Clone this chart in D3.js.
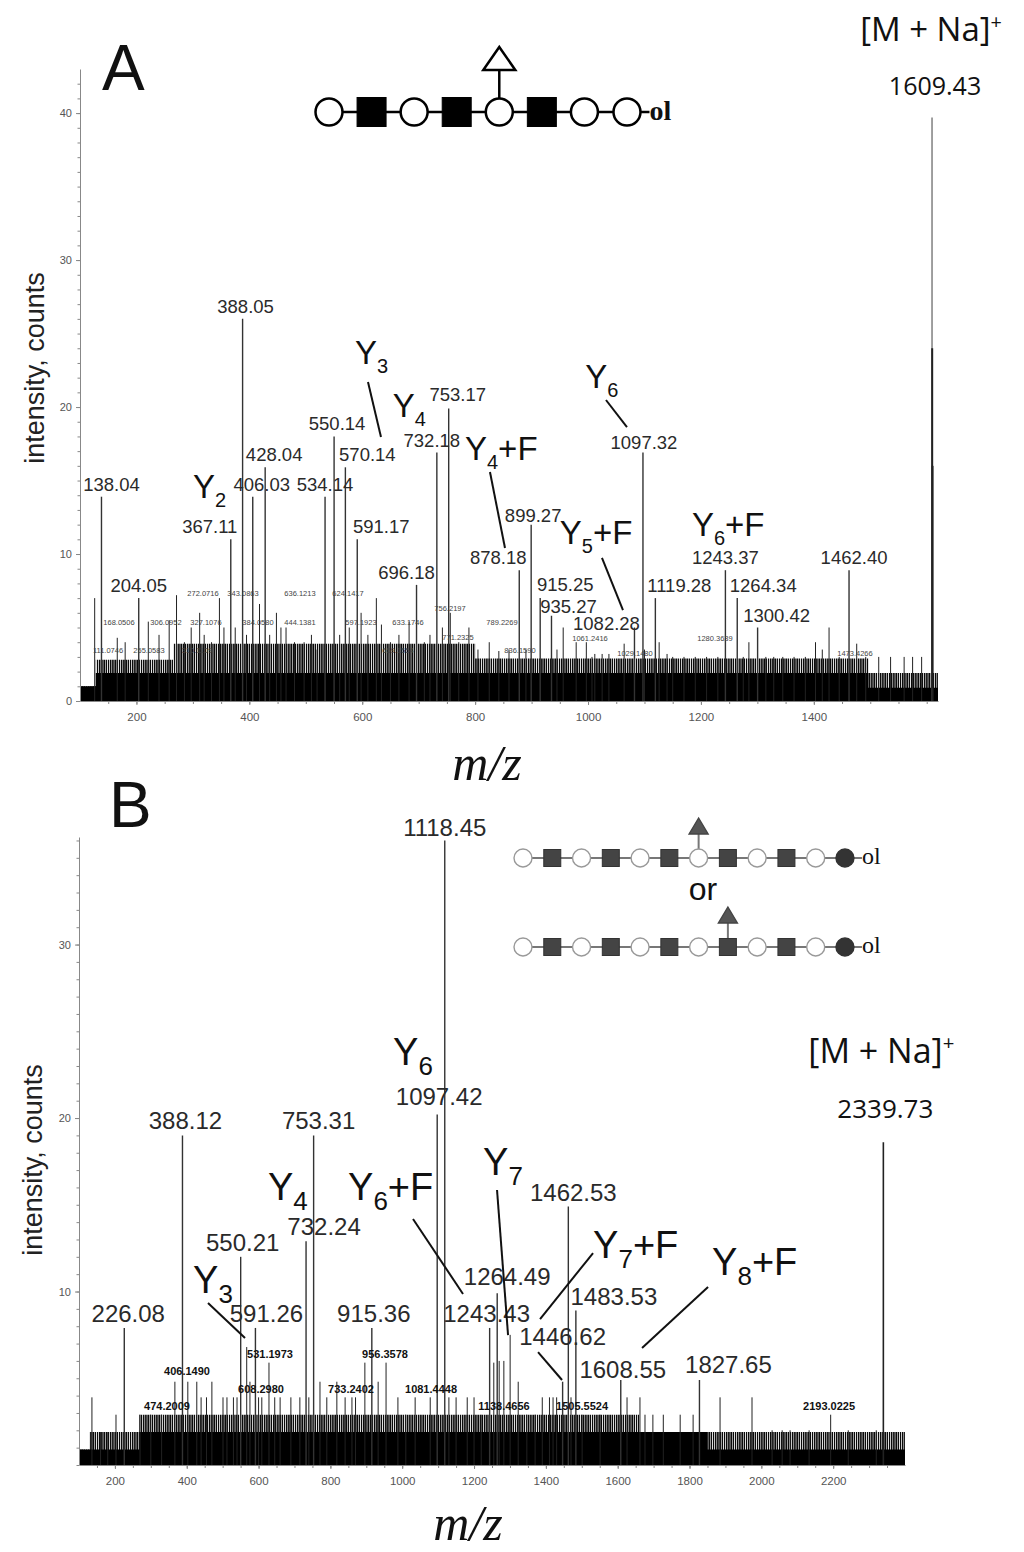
<!DOCTYPE html>
<html>
<head>
<meta charset="utf-8">
<script src="https://cdn.jsdelivr.net/npm/d3@7/dist/d3.min.js"></script>
<style>
body { margin: 0; background: #fff; }
svg { display: block; font-family: Arial, "Liberation Sans", sans-serif; }
</style>
</head>
<body>
<div id="chart-area"></div>
<script>
// ---------- Panel A data ----------
const xTicksA = [200, 400, 600, 800, 1000, 1200, 1400]
const yTicksA = [0, 10, 20, 30, 40]
const peaksA = [
    ["138.04", 138.04, 13.9], ["204.05", 204.05, 7.0], ["367.11", 367.11, 11.0],
    ["388.05", 388.05, 26.0], ["406.03", 406.03, 13.9], ["428.04", 428.04, 15.9],
    ["534.14", 534.14, 13.9], ["550.14", 550.14, 18.0], ["570.14", 570.14, 15.9],
    ["591.17", 591.17, 11.0], ["696.18", 696.18, 7.9], ["732.18", 732.18, 16.9],
    ["753.17", 753.17, 19.9], ["878.18", 878.18, 8.9], ["899.27", 899.27, 12.0],
    ["915.25", 915.25, 7.0], ["935.27", 935.27, 5.8], ["1082.28", 1082.28, 5.0],
    ["1097.32", 1097.32, 16.9], ["1119.28", 1119.28, 7.0], ["1243.37", 1243.37, 8.9],
    ["1264.34", 1264.34, 7.0], ["1300.42", 1300.42, 5.0], ["1462.40", 1462.40, 8.9]
]
const molIonA = [[1609.43, 39.7], [1609.7, 24.0], [1610.3, 16.0]]
const minorA = [
    [126, 7.0], [166, 4.3], [180, 4.0], [221, 5.4], [240, 4.5], [258, 5.5], [271, 7.2],
    [285, 4.0], [297, 5.0], [312, 6.0], [320, 4.5], [333, 4.0], [347, 7.0], [355, 5.0],
    [375, 5.0], [395, 4.5], [418, 6.6], [436, 4.5], [448, 6.0], [456, 5.0], [465, 5.0],
    [480, 4.0], [497, 4.0], [510, 4.5], [520, 3.5], [560, 4.5], [577, 5.0], [598, 6.0],
    [610, 4.5], [625, 7.0], [634, 5.2], [650, 4.0], [665, 4.5], [683, 5.4], [710, 4.0],
    [720, 4.5], [742, 5.0], [756, 6.0], [771, 4.0], [789, 5.0], [805, 3.5], [825, 4.0],
    [842, 3.4], [860, 3.5], [890, 3.5], [945, 3.5], [956, 5.0], [979, 4.0], [997, 4.0],
    [1007, 3.0], [1012, 3.2], [1025, 3.2], [1037, 3.2], [1064, 3.9], [1100, 3.5],
    [1126, 4.0], [1140, 3.2], [1150, 3.0], [1170, 3.0], [1190, 3.0], [1210, 3.0],
    [1230, 3.0], [1275, 3.0], [1285, 4.0], [1315, 3.0], [1329, 3.0], [1345, 3.0],
    [1365, 3.0], [1385, 3.0], [1403, 4.0], [1415, 3.5], [1427, 5.0], [1445, 3.0],
    [1476, 3.9], [1492, 3.0], [1515, 3.0], [1536, 3.0], [1560, 3.0], [1575, 3.0], [1591, 3.0]
]
const noiseSolidA = [[100, 1.0], [128, 1.9], [1497, 0.9], [1620, 0.9]]
const noiseGrassA = [[100, 1.0], [128, 2.8], [265, 3.9], [800, 2.9], [1497, 1.9], [1620, 1.9]]
const smallLabelsA = [
    ["272.0716", 317.9, 7.14], ["343.0863", 388.8, 7.14], ["636.1213", 489.7, 7.14],
    ["624.1417", 574.8, 7.14], ["168.0506", 169.1, 5.17], ["306.0952", 252.3, 5.17],
    ["327.1076", 323.2, 5.17], ["384.0580", 415.3, 5.17], ["444.1381", 489.7, 5.17],
    ["597.1923", 597.8, 5.17], ["633.1746", 681.0, 5.17], ["756.2197", 755.5, 6.12],
    ["771.2325", 769.6, 4.15], ["789.2269", 847.6, 5.17], ["111.0746", 149.6, 3.27],
    ["255.0583", 222.2, 3.27], ["310.1109", 307.3, 3.27], ["659.1554", 663.3, 3.27],
    ["836.1590", 879.4, 3.27], ["1061.2416", 1003.5, 4.08], ["1029.1480", 1083.2, 3.06],
    ["1280.3639", 1224.9, 4.08], ["1473.4266", 1472.9, 3.06]
]

// ---------- Panel B data ----------
const xTicksB = [200, 400, 600, 800, 1000, 1200, 1400, 1600, 1800, 2000, 2200]
const yTicksB = [10, 20, 30]
const peaksB = [
    ["226.08", 226.08, 7.9], ["388.12", 388.12, 19.0], ["550.21", 550.21, 12.0],
    ["591.26", 591.26, 7.9], ["732.24", 732.24, 12.9], ["753.31", 753.31, 19.0],
    ["915.36", 915.36, 7.9], ["1097.42", 1097.42, 20.2], ["1118.45", 1118.45, 36.0],
    ["1243.43", 1243.43, 7.9], ["1264.49", 1264.49, 9.9], ["1446.62", 1446.62, 4.8],
    ["1462.53", 1462.53, 14.9], ["1483.53", 1483.53, 8.9], ["1608.55", 1608.55, 4.9],
    ["1827.65", 1827.65, 4.9]
]
const molIonB = [[2339.73, 18.6]]
const minorB = [
    [136, 3.9], [160, 1.9], [180, 1.9], [203, 2.9], [270, 2.9], [300, 2.9], [330, 2.9],
    [367, 4.8], [403, 4.8], [428, 4.8], [440, 3.9], [455, 3.9], [470, 4.8], [501, 3.9],
    [512, 3.9], [530, 3.9], [540, 3.9], [567, 6.8], [576, 4.8], [600, 3.9], [609, 3.9],
    [629, 5.9], [645, 3.9], [660, 3.9], [690, 3.9], [715, 3.9], [740, 3.9], [771, 4.8],
    [790, 3.9], [818, 4.8], [841, 3.9], [860, 3.9], [870, 3.9], [896, 5.9], [933, 4.8],
    [955, 5.9], [988, 3.9], [1010, 2.9], [1036, 3.9], [1078, 3.9], [1130, 3.9], [1150, 3.9],
    [1181, 3.9], [1200, 3.9], [1220, 2.9], [1255, 5.9], [1270, 6.0], [1283, 6.0],
    [1300.5, 7.5], [1323, 4.8], [1347, 2.9], [1370, 2.9], [1390, 3.9], [1410, 3.9],
    [1420, 3.9], [1430, 3.9], [1470, 3.9], [1501, 2.9], [1551, 2.9], [1626, 3.9],
    [1662, 3.9], [1676, 2.9], [1698, 2.9], [1727, 2.9], [1774, 2.9], [1810, 2.9],
    [1885, 3.9], [1974, 3.9], [2030, 2.0], [2058, 2.0], [2080, 2.0], [2133, 2.0],
    [2193.02, 2.9], [2242, 2.0], [2320, 2.0]
]
const noiseSolidB = [[100, 0.9], [268, 1.9], [1850, 0.9], [2400, 0.9]]
const noiseGrassB = [[100, 0.9], [130, 1.9], [268, 2.9], [1660, 1.9], [2400, 1.9]]
const smallLabelsB = [
    ["406.1490", 400.8, 5.19], ["474.2009", 345.1, 3.17], ["531.1973", 631.9, 6.17],
    ["608.2980", 606.8, 4.15], ["733.2402", 857.4, 4.15], ["956.3578", 952.1, 6.17],
    ["1081.4448", 1080.2, 4.15], ["1138.4656", 1283.5, 3.17], ["1505.5524", 1500.7, 3.17],
    ["2193.0225", 2188.6, 3.17]
]

// glycan sequences (reducing end last)
const glycanA = ["Hex", "HexNAc", "Hex", "HexNAc", "Hex", "HexNAc", "Hex", "Hex"]
const glycanB = ["Hex", "HexNAc", "Hex", "HexNAc", "Hex", "HexNAc", "Hex", "HexNAc", "Hex", "HexNAc", "Hex", "End"]

// ---------- layout: label nudges and annotations (data coordinates) ----------
const nudgeA = {"138.04": [10, 0], "367.11": [-21, 0], "388.05": [3, 0], "406.03": [9, 0],
    "428.04": [9, 0], "550.14": [3, 0], "570.14": [22, 0], "591.17": [24, 0], "696.18": [-10, 0],
    "732.18": [-5, 0], "753.17": [9, -2], "878.18": [-21, 0], "899.27": [2, 3], "915.25": [25, -1],
    "935.27": [17, 3], "1082.28": [-28, 8], "1097.32": [1, 2], "1119.28": [24, 0],
    "1264.34": [26, 0], "1300.42": [19, 0], "1462.40": [5, 0]}
const nudgeB = {"226.08": [4, 0], "388.12": [3, 0], "550.21": [2, 0], "591.26": [11, 0],
    "732.24": [18, 0], "753.31": [5, 0], "915.36": [2, 0], "1097.42": [2, -4], "1118.45": [0, 2],
    "1243.43": [-3, 0], "1264.49": [10, -2], "1446.62": [0, -31], "1462.53": [5, 0],
    "1483.53": [38, 0], "1608.55": [2, 4], "1827.65": [29, -1]}
const ionsA = [
    {sub: "2", tail: "", mz: 300, v: 13.8}, {sub: "3", tail: "", mz: 587, v: 22.9},
    {sub: "4", tail: "", mz: 654, v: 19.3}, {sub: "4", tail: "+F", mz: 782, v: 16.4},
    {sub: "5", tail: "+F", mz: 950, v: 10.7}, {sub: "6", tail: "", mz: 995, v: 21.3},
    {sub: "6", tail: "+F", mz: 1184, v: 11.2}
]
const leadersA = [[610.2, 21.7, 633.2, 17.96], [826.3, 15.58, 852.9, 10.41],
    [1024.7, 9.73, 1061.9, 6.19], [1031.8, 20.48, 1069.0, 18.64]]
const ionsB = [
    {sub: "3", tail: "", mz: 417.5, v: 9.9}, {sub: "4", tail: "", mz: 626.3, v: 15.27},
    {sub: "6", tail: "", mz: 974.4, v: 23.05}, {sub: "6", tail: "+F", mz: 849.1, v: 15.27},
    {sub: "7", tail: "", mz: 1225, v: 16.71}, {sub: "7", tail: "+F", mz: 1531.4, v: 11.93},
    {sub: "8", tail: "+F", mz: 1862.8, v: 10.95}
]
const leadersB = [[459.2, 9.34, 562.3, 7.32], [1030.1, 14.18, 1169.3, 9.86],
    [1264, 15.85, 1294.7, 7.49], [1531.4, 12.22, 1383.8, 8.41], [1851.6, 10.26, 1667.8, 6.74],
    [1378.2, 6.51, 1445.0, 4.90]]

const svg = d3.select("#chart-area").append("svg")
    .attr("width", 1024)
    .attr("height", 1552)

svg.append("defs").append("pattern")
    .attr("id", "grass")
    .attr("width", 2.2)
    .attr("height", 4)
    .attr("patternUnits", "userSpaceOnUse")
    .append("rect")
    .attr("width", 1.5)
    .attr("height", 4)
    .attr("fill", "#0a0a0a")

function drawPanel(p) {
    const x = d3.scaleLinear().domain(p.xDomain).range(p.xRange)
    const y = d3.scaleLinear().domain(p.yDomain).range(p.yRange)
    const g = svg.append("g")

    // noise floor
    const area = d3.area().curve(d3.curveStepAfter)
        .x(d => x(d[0])).y0(y(0)).y1(d => y(d[1]))
    g.append("path").datum(p.grass).attr("d", area).attr("fill", "url(#grass)")
    g.append("path").datum(p.solid).attr("d", area).attr("fill", "#000")

    g.selectAll(".minor").data(p.minor).enter().append("line")
        .attr("x1", d => x(d[0])).attr("x2", d => x(d[0]))
        .attr("y1", y(0)).attr("y2", d => y(d[1]))
        .attr("stroke", "#222").attr("stroke-width", 1)

    g.selectAll(".peak").data(p.peaks).enter().append("line")
        .attr("x1", d => x(d[1])).attr("x2", d => x(d[1]))
        .attr("y1", y(0)).attr("y2", d => y(d[2]))
        .attr("stroke", "#333").attr("stroke-width", 1.4)

    g.selectAll(".mol").data(p.molIon).enter().append("line")
        .attr("x1", d => x(d[0])).attr("x2", d => x(d[0]))
        .attr("y1", y(0)).attr("y2", d => y(d[1]))
        .attr("stroke", (d, i) => i === 0 ? p.molColor : "#222")
        .attr("stroke-width", (d, i) => i === 0 ? 1.6 : 2)

    // peak labels
    g.selectAll(".plabel").data(p.peaks).enter().append("text")
        .attr("x", d => x(d[1]) + (p.nudge[d[0]] || [0, 0])[0])
        .attr("y", d => y(d[2]) - 6 + (p.nudge[d[0]] || [0, 0])[1])
        .attr("text-anchor", "middle")
        .attr("font-size", p.labelSize)
        .attr("fill", "#2a2a2a")
        .text(d => d[0])

    g.selectAll(".slabel").data(p.small).enter().append("text")
        .attr("x", d => x(d[1]))
        .attr("y", d => y(d[2]))
        .attr("text-anchor", "middle")
        .attr("font-size", p.smallSize)
        .attr("font-weight", p.smallWeight)
        .attr("fill", p.smallColor)
        .text(d => d[0])

    // ion annotations
    g.selectAll(".leader").data(p.leaders).enter().append("line")
        .attr("x1", d => x(d[0])).attr("y1", d => y(d[1]))
        .attr("x2", d => x(d[2])).attr("y2", d => y(d[3]))
        .attr("stroke", "#111").attr("stroke-width", 2)

    p.ions.forEach(d => {
        const t = g.append("text")
            .attr("x", x(d.mz)).attr("y", y(d.v))
            .attr("font-size", p.ionSize).attr("fill", "#111")
        t.append("tspan").text("Y")
        t.append("tspan").attr("font-size", p.subSize).attr("dy", p.subShift).text(d.sub)
        if (d.tail) t.append("tspan").attr("dy", -p.subShift).text(d.tail)
    })

    // molecular ion
    const mol = g.append("g").attr("font-family", "'Open Sans', 'Noto Sans', sans-serif").attr("fill", "#111")
    mol.append("text")
        .attr("x", x(p.molIon[0][0]) + p.molDx).attr("y", y(p.molLabelV))
        .attr("text-anchor", "middle").attr("font-size", p.molSize)
        .text(p.molIon[0][0].toFixed(2))
    const mt = mol.append("text")
        .attr("x", x(p.molIon[0][0]) + p.molDx - 4).attr("y", y(p.naV))
        .attr("text-anchor", "middle").attr("font-size", p.naSize)
    mt.append("tspan").text("[M + Na]")
    mt.append("tspan").attr("font-size", p.naSize * 0.6).attr("dy", -p.naSize * 0.38).text("+")

    // axes
    const xMinor = g.append("g")
        .attr("transform", `translate(0, ${y(0)})`)
        .call(d3.axisBottom(x).tickValues(d3.range(150, p.xDomain[1], 50)).tickSize(3).tickFormat(""))
    xMinor.select(".domain").remove()
    const xAxis = g.append("g")
        .attr("transform", `translate(0, ${y(0)})`)
        .call(d3.axisBottom(x).tickValues(p.xTicks).tickSize(4).tickSizeOuter(0).tickPadding(8)
            .tickFormat(d3.format("d")))
    xAxis.selectAll("text").attr("font-size", 11.5).attr("fill", "#555")

    const yMinor = g.append("g")
        .attr("transform", `translate(${p.xRange[0]}, 0)`)
        .call(d3.axisLeft(y).tickValues(d3.range(0, p.yDomain[1], 1)).tickSize(2.5).tickFormat(""))
    yMinor.select(".domain").remove()
    const yAxis = g.append("g")
        .attr("transform", `translate(${p.xRange[0]}, 0)`)
        .call(d3.axisLeft(y).tickValues(p.yTicks).tickSize(4).tickSizeOuter(0).tickPadding(4))
    yAxis.selectAll("text").attr("font-size", 11).attr("fill", "#555")
    g.selectAll(".domain, .tick line").attr("stroke", "#888")

    g.append("text")
        .attr("transform", `translate(${p.yLabelX}, ${p.yLabelY}) rotate(-90)`)
        .attr("text-anchor", "middle")
        .attr("font-size", 27)
        .attr("fill", "#222")
        .text("intensity, counts")

    g.append("text")
        .attr("x", p.mzX).attr("y", p.mzY)
        .attr("text-anchor", "middle")
        .attr("font-family", "'Liberation Serif', 'DejaVu Serif', serif")
        .attr("font-style", "italic")
        .attr("font-size", 50)
        .attr("fill", "#111")
        .text("m/z")

    g.append("text")
        .attr("x", p.letterX).attr("y", p.letterY)
        .attr("font-size", 64)
        .attr("fill", "#111")
        .text(p.letter)
}

function drawGlycan(seq, fucAt, o) {
    const g = svg.append("g")
    const cx = i => o.x0 + i * o.step
    const last = cx(seq.length - 1)
    g.append("line")
        .attr("x1", cx(0)).attr("x2", last + o.r + o.dash)
        .attr("y1", o.y).attr("y2", o.y)
        .attr("stroke", o.line).attr("stroke-width", o.lw)
    const fx = cx(fucAt)
    g.append("line")
        .attr("x1", fx).attr("x2", fx)
        .attr("y1", o.y + o.triBase).attr("y2", o.y)
        .attr("stroke", o.line).attr("stroke-width", o.lw)
    g.append("path")
        .attr("d", `M${fx},${o.y + o.triTop} L${fx + o.triHalf},${o.y + o.triBase} L${fx - o.triHalf},${o.y + o.triBase} Z`)
        .attr("fill", o.triFill).attr("stroke", o.triStroke).attr("stroke-width", o.sw)
    seq.forEach((s, i) => {
        if (s === "HexNAc") {
            g.append("rect")
                .attr("x", cx(i) - o.sq / 2).attr("y", o.y - o.sq / 2)
                .attr("width", o.sq).attr("height", o.sq)
                .attr("fill", o.sqFill).attr("stroke", o.sqStroke).attr("stroke-width", 1)
        } else {
            g.append("circle")
                .attr("cx", cx(i)).attr("cy", o.y).attr("r", o.r)
                .attr("fill", s === "End" ? o.endFill : "#fff")
                .attr("stroke", s === "End" ? o.endFill : o.circStroke)
                .attr("stroke-width", o.sw)
        }
    })
    g.append("text")
        .attr("x", last + o.r + o.dash).attr("y", o.y + o.olDy)
        .attr("font-family", "'Liberation Serif', 'DejaVu Serif', serif")
        .attr("font-weight", o.olWeight)
        .attr("font-size", o.olSize)
        .attr("fill", "#111")
        .text("ol")
}

drawPanel({
    letter: "A", letterX: 102, letterY: 90,
    xDomain: [100, 1620], xRange: [80, 938],
    yDomain: [0, 43], yRange: [701, 69],
    xTicks: xTicksA, yTicks: yTicksA,
    peaks: peaksA, minor: minorA, solid: noiseSolidA, grass: noiseGrassA,
    small: smallLabelsA, smallSize: 7.5, smallWeight: "normal", smallColor: "#444",
    nudge: nudgeA, labelSize: 18.5,
    molIon: molIonA, molColor: "#888", molDx: 3, molLabelV: 41.2, molSize: 25,
    naV: 44.9, naSize: 33,
    ions: ionsA, leaders: leadersA, ionSize: 33, subSize: 20, subShift: 9,
    yLabelX: 44, yLabelY: 368, mzX: 487, mzY: 780
})

drawPanel({
    letter: "B", letterX: 109, letterY: 827,
    xDomain: [100, 2400], xRange: [79, 905],
    yDomain: [0, 36.2], yRange: [1465, 837],
    xTicks: xTicksB, yTicks: yTicksB,
    peaks: peaksB, minor: minorB, solid: noiseSolidB, grass: noiseGrassB,
    small: smallLabelsB, smallSize: 11, smallWeight: "bold", smallColor: "#111",
    nudge: nudgeB, labelSize: 24,
    molIon: molIonB, molColor: "#222", molDx: 2, molLabelV: 20.0, molSize: 26,
    naV: 23.2, naSize: 34,
    ions: ionsB, leaders: leadersB, ionSize: 38, subSize: 26, subShift: 10,
    yLabelX: 42, yLabelY: 1160, mzX: 468, mzY: 1540
})

drawGlycan(glycanA, 4, {
    x0: 329, step: 42.57, y: 112, r: 13.5, sq: 29, lw: 2.5, sw: 2.5, dash: 9,
    line: "#000", circStroke: "#000", sqFill: "#000", sqStroke: "#000", endFill: "#fff",
    triTop: -65, triBase: -42, triHalf: 16, triFill: "#fff", triStroke: "#000",
    olSize: 28, olWeight: "bold", olDy: 8
})
drawGlycan(glycanB, 6, {
    x0: 523, step: 29.27, y: 858, r: 9, sq: 17, lw: 2, sw: 1.4, dash: 8,
    line: "#777", circStroke: "#999", sqFill: "#444", sqStroke: "#333", endFill: "#333",
    triTop: -40, triBase: -24, triHalf: 9.5, triFill: "#555", triStroke: "#444",
    olSize: 24, olWeight: "normal", olDy: 6
})
drawGlycan(glycanB, 7, {
    x0: 523, step: 29.27, y: 947, r: 9, sq: 17, lw: 2, sw: 1.4, dash: 8,
    line: "#777", circStroke: "#999", sqFill: "#444", sqStroke: "#333", endFill: "#333",
    triTop: -40, triBase: -24, triHalf: 9.5, triFill: "#555", triStroke: "#444",
    olSize: 24, olWeight: "normal", olDy: 6
})
svg.append("text")
    .attr("x", 703).attr("y", 900)
    .attr("text-anchor", "middle")
    .attr("font-size", 32)
    .attr("fill", "#111")
    .text("or")
</script>
</body>
</html>
